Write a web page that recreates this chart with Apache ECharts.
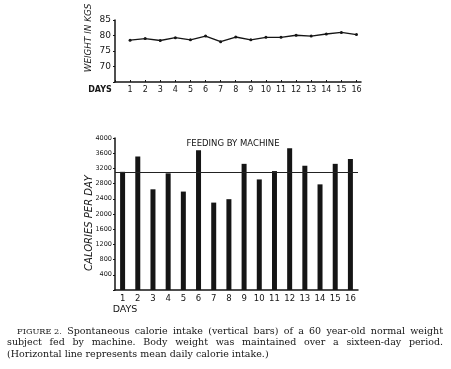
<!DOCTYPE html>
<html>
<head>
<meta charset="utf-8">
<script src="https://cdn.jsdelivr.net/npm/echarts@6/dist/echarts.min.js"></script>
<style>
html,body{margin:0;padding:0;background:#fff;}
#main{width:451px;height:369px;}
</style>
</head>
<body>
<div id="main"></div>
<script>
const days = ['1','2','3','4','5','6','7','8','9','10','11','12','13','14','15','16'];
const weightKg = [78.5, 79.0, 78.4, 79.3, 78.6, 79.8, 78.0, 79.5, 78.6, 79.4, 79.4, 80.1, 79.8, 80.5, 81.0, 80.3];
const caloriesPerDay = [3110, 3510, 2650, 3070, 2590, 3680, 2300, 2390, 3320, 2910, 3130, 3730, 3270, 2780, 3320, 3450];
const meanCalories = 3100;
const captionLines = [
  ['FIGURE 2.', 'Spontaneous', 'calorie', 'intake', '(vertical', 'bars)', 'of', 'a', '60', 'year-old', 'normal', 'weight'],
  ['subject', 'fed', 'by', 'machine.', 'Body', 'weight', 'was', 'maintained', 'over', 'a', 'sixteen-day', 'period.'],
  ['(Horizontal', 'line', 'represents', 'mean', 'daily', 'calorie', 'intake.)']
];

const ink = '#151515';
const sans = '"DejaVu Sans", "Liberation Sans", sans-serif';
const serif = '"DejaVu Serif", "Liberation Serif", serif';

const chart = echarts.init(document.getElementById('main'), null, {renderer: 'canvas'});

// caption layout (justified)
const cv = document.createElement('canvas').getContext('2d');
function wordWidth(w, size) { cv.font = size + 'px ' + serif; return cv.measureText(w).width; }
const capRight = 443, capSize = 9.5;
const capLefts = [17, 7, 7];
const capCenters = [331.5, 343, 354.5];
const captionGraphics = [];
captionLines.forEach((words, li) => {
  const y = capCenters[li];
  const sizes = words.map(w => w === 'FIGURE 2.' ? 8.2 : capSize);
  const widths = words.map((w, i) => wordWidth(w, sizes[i]));
  const total = widths.reduce((a, b) => a + b, 0);
  const justify = li < captionLines.length - 1;
  const gap = justify ? (capRight - capLefts[li] - total) / (words.length - 1) : wordWidth(' ', capSize);
  let x = capLefts[li];
  words.forEach((w, i) => {
    captionGraphics.push({
      type: 'text', x: x, y: y,
      style: { text: w, font: sizes[i] + 'px ' + serif, fill: ink, verticalAlign: 'middle' }
    });
    x += widths[i] + gap;
  });
});

const option = {
  animation: false,
  backgroundColor: '#fff',
  grid: [
    { left: 115, top: 20, width: 246, height: 62 },
    { left: 115, top: 138, width: 243, height: 152 }
  ],
  xAxis: [
    {
      type: 'value', gridIndex: 0, min: 0, max: 16.3, interval: 1,
      axisLine: { lineStyle: { color: ink, width: 1.5 } },
      axisTick: { inside: true, length: 2, lineStyle: { color: ink } },
      splitLine: { show: false },
      axisLabel: {
        color: ink, fontSize: 8, fontFamily: sans, margin: 4, showMaxLabel: false,
        formatter: v => (v >= 1 && Number.isInteger(v)) ? String(v) : ''
      }
    },
    {
      type: 'category', gridIndex: 1, data: days,
      axisLine: { lineStyle: { color: ink, width: 1.5 } },
      axisTick: { show: false },
      axisLabel: { color: ink, fontSize: 8.5, fontFamily: sans, margin: 4 }
    }
  ],
  yAxis: [
    {
      type: 'value', gridIndex: 0, min: 65, max: 85, interval: 5,
      axisLine: { show: true, lineStyle: { color: ink, width: 1.5 } },
      axisTick: { show: true, length: 2, lineStyle: { color: ink } },
      splitLine: { show: false },
      axisLabel: { color: ink, fontSize: 9, fontFamily: sans, margin: 4, formatter: v => v === 65 ? '' : String(v) }
    },
    {
      type: 'value', gridIndex: 1, min: 0, max: 4000, interval: 400,
      axisLine: { show: true, lineStyle: { color: ink, width: 1.5 } },
      axisTick: { show: true, length: 2, lineStyle: { color: ink } },
      splitLine: { show: false },
      axisLabel: { color: ink, fontSize: 6.5, fontFamily: sans, margin: 3, formatter: v => v === 0 ? '' : String(v) }
    }
  ],
  series: [
    {
      type: 'line', xAxisIndex: 0, yAxisIndex: 0,
      data: days.map((d, i) => [Number(d), weightKg[i]]),
      symbol: 'circle', symbolSize: 3,
      lineStyle: { color: ink, width: 1.4 },
      itemStyle: { color: ink }
    },
    {
      type: 'bar', xAxisIndex: 1, yAxisIndex: 1,
      data: caloriesPerDay, barWidth: 5,
      itemStyle: { color: ink },
      markLine: {
        silent: true, symbol: 'none', label: { show: false },
        lineStyle: { color: '#222', width: 1, type: 'solid' },
        data: [{ yAxis: meanCalories }]
      }
    }
  ],
  graphic: [
    { type: 'text', x: 100, y: 90,
      style: { text: 'DAYS', font: 'bold 8px ' + sans, fill: ink, align: 'center', verticalAlign: 'middle' } },
    { type: 'text', x: 89, y: 38, rotation: Math.PI / 2,
      style: { text: 'WEIGHT IN KGS', font: 'italic 8.8px ' + sans, fill: ink, align: 'center', verticalAlign: 'middle' } },
    { type: 'text', x: 89, y: 223, rotation: Math.PI / 2,
      style: { text: 'CALORIES PER DAY', font: 'italic 10px ' + sans, fill: ink, align: 'center', verticalAlign: 'middle' } },
    { type: 'text', x: 233, y: 144,
      style: { text: 'FEEDING BY MACHINE', font: '8.5px ' + sans, fill: ink, align: 'center', verticalAlign: 'middle' } },
    { type: 'text', x: 125, y: 310,
      style: { text: 'DAYS', font: '9.5px ' + sans, fill: ink, align: 'center', verticalAlign: 'middle' } }
  ].concat(captionGraphics)
};
chart.setOption(option);
</script>
</body>
</html>
